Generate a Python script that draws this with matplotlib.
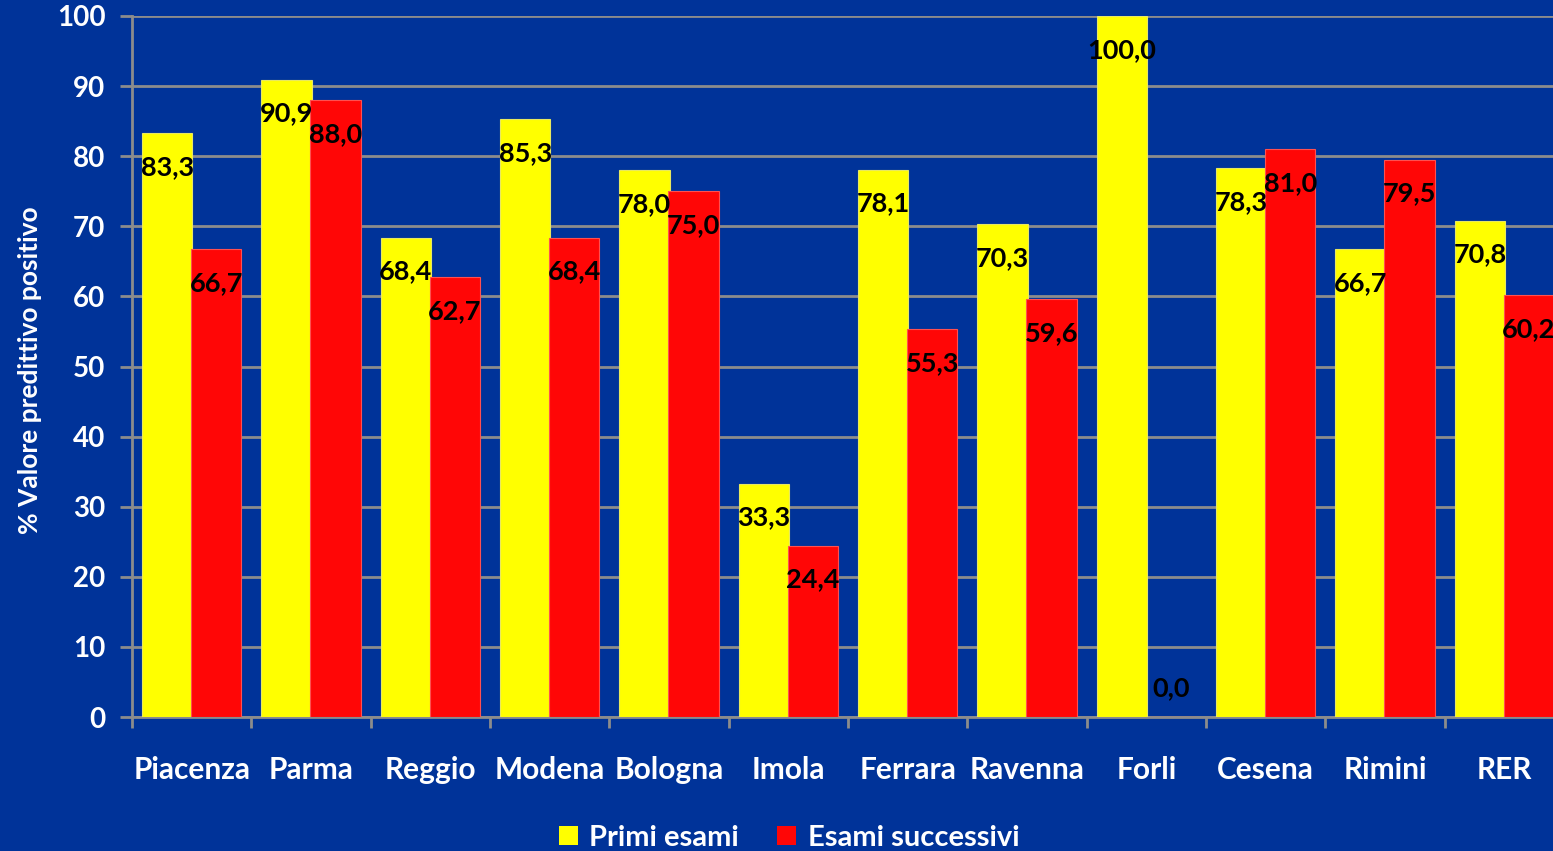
import matplotlib
matplotlib.use("Agg")
import matplotlib.pyplot as plt
import numpy as np
from matplotlib.patches import Patch

# data
categories = ["Piacenza", "Parma", "Reggio", "Modena", "Bologna", "Imola",
              "Ferrara", "Ravenna", "Forli", "Cesena", "Rimini", "RER"]
primi_esami = [83.3, 90.9, 68.4, 85.3, 78.0, 33.3, 78.1, 70.3, 100.0, 78.3, 66.7, 70.8]
esami_successivi = [66.7, 88.0, 62.7, 68.4, 75.0, 24.4, 55.3, 59.6, 0.0, 81.0, 79.5, 60.2]
series_names = ["Primi esami", "Esami successivi"]
y_ticks = [0, 10, 20, 30, 40, 50, 60, 70, 80, 90, 100]

BG = "#003399"
YELLOW = "#FFFF00"
RED = "#FF0606"
GRID = "#8C8C8C"

plt.rcParams["font.family"] = ["Lato", "DejaVu Sans"]
plt.rcParams["font.weight"] = "bold"

W, H = 1553, 851
fig = plt.figure(figsize=(W / 100, H / 100), dpi=100, facecolor=BG)
ax = fig.add_axes([132 / W, 1 - 717 / H, 1432 / W, 701 / H])
ax.set_facecolor(BG)

x = np.arange(len(categories))
bw = 0.42
off = 0.205
ax.bar(x - off, primi_esami, bw, color=YELLOW, edgecolor="#E8E860", linewidth=0.8, zorder=3)
ax.bar(x + off, esami_successivi, bw, color=RED, edgecolor="#FF5050", linewidth=0.8, zorder=3)

def fmt(v):
    return f"{v:.1f}".replace(".", ",")

for xs, vals in ((x - off, primi_esami), (x + off, esami_successivi)):
    for xi, v in zip(xs, vals):
        yy = v - 4.8 if v > 8 else v + 4.1
        ax.text(xi, yy, fmt(v), ha="center", va="center", fontsize=19.5,
                fontweight="bold", color="black", zorder=5)

ax.set_xlim(-0.5, len(categories) - 0.5)
ax.set_ylim(0, 100)
ax.set_yticks(y_ticks)
ax.yaxis.grid(True, color=GRID, linewidth=2, zorder=0)
ax.set_axisbelow(True)

ax.set_xticks(np.arange(len(categories) + 1) - 0.5)
ax.set_xticklabels([])
ax.set_xticks(x, minor=True)
ax.set_xticklabels(categories, minor=True)
ax.tick_params(axis="x", which="major", length=8, width=2, color=GRID, direction="out")
ax.tick_params(axis="x", which="minor", length=0, pad=28, labelsize=21.5, labelcolor="white")
ax.tick_params(axis="y", length=9, width=2, color=GRID, pad=10, labelsize=20, labelcolor="white")

for side in ("top", "right"):
    ax.spines[side].set_visible(False)
for side in ("left", "bottom"):
    ax.spines[side].set_color(GRID)
    ax.spines[side].set_linewidth(2)

fig.text(30 / W, 1 - 370 / H, "% Valore predittivo positivo", rotation=90,
         ha="center", va="center", fontsize=19, fontweight="bold", color="white")

handles = [Patch(facecolor=YELLOW, edgecolor="none"), Patch(facecolor=RED, edgecolor="none")]
leg = fig.legend(handles, series_names, loc="center", bbox_to_anchor=(789 / W, 1 - 838 / H),
                 ncol=2, frameon=False, fontsize=21, handlelength=0.65, handleheight=0.65,
                 handletextpad=0.4, columnspacing=1.3, borderpad=0)
for t in leg.get_texts():
    t.set_color("white")
    t.set_fontweight("bold")

fig.savefig("out.png", dpi=100, facecolor=BG)
